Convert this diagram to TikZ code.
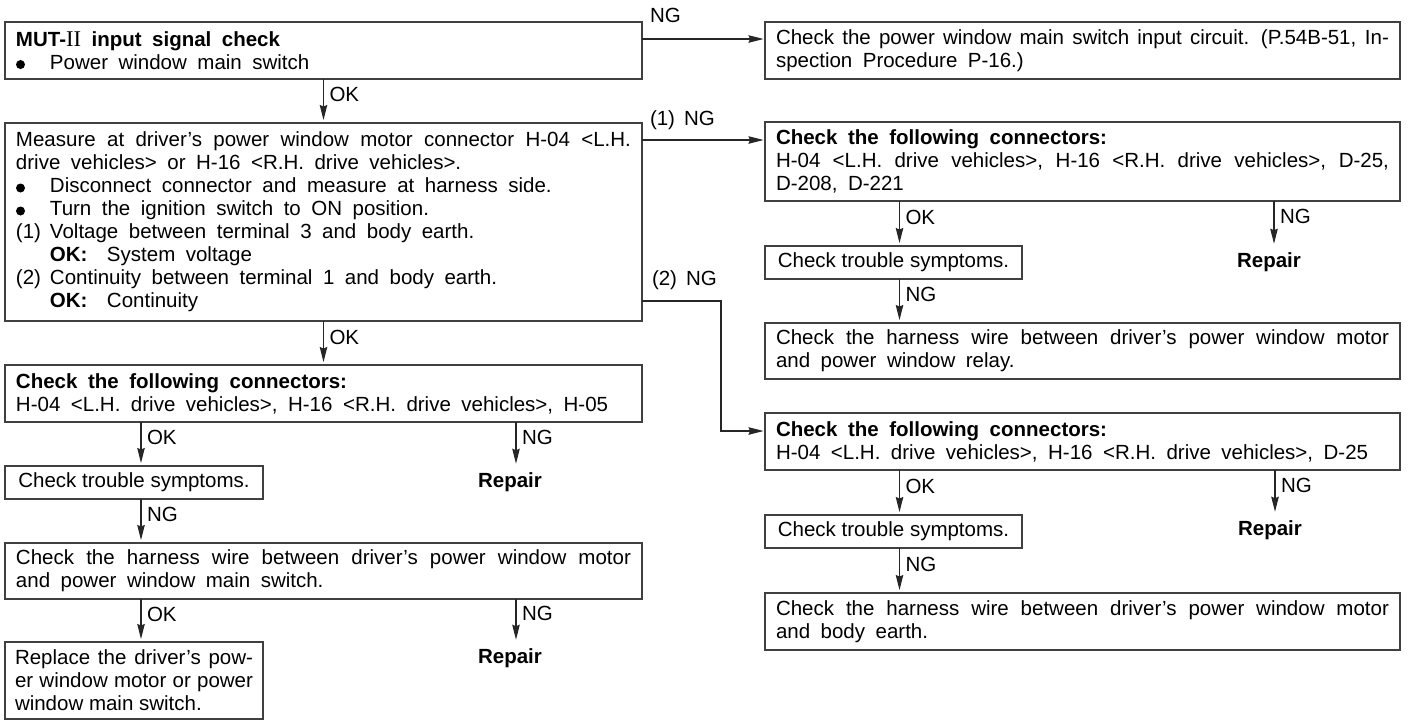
\documentclass[tikz,border=0pt]{standalone}
\usepackage{fontspec}
\setmainfont{Liberation Sans}
\newfontfamily\serifII{Liberation Serif}
\usetikzlibrary{arrows.meta}
\newcommand{\blt}{\tikz[x=1pt,y=1pt,baseline=0pt]\fill (4.5,4.8) circle (4.5pt);}
\tikzset{
  wbox/.style={draw=black!75, line width=1.3pt, anchor=north west, inner xsep=11pt, inner ysep=0pt, align=justify,
    execute at begin node={\spaceskip=10.5pt plus 12pt minus 3pt\relax\hyphenpenalty=10000\relax\parindent=0pt\relax}},
  lbox/.style={wbox, text width=615pt},
  rbox/.style={wbox, text width=613pt},
  sbox/.style={draw=black!75, line width=1.3pt, anchor=north west, inner sep=0pt, minimum width=257pt, minimum height=33pt, align=center},
  rep/.style={font=\fontsize{20.5}{23}\selectfont\bfseries, inner xsep=0pt, inner ysep=8.75pt},
  arr/.style={draw=black!85, line width=1.1pt, -{Stealth[length=15pt,width=7.5pt,inset=1.5pt]}},
  lab/.style={anchor=west, inner xsep=6pt, inner ysep=0pt},
  okl/.style={lab, pos=0.38},
  hl/.style={anchor=base west, inner sep=0pt},
}
\begin{document}
\begin{tikzpicture}[x=1pt, y=-1pt, font=\fontsize{20.5}{23}\selectfont,
  every node/.style={inner sep=0pt, outer sep=0pt}]
\path[use as bounding box, fill=white] (0,0) rectangle (1411,721);

% left column
\node[lbox, minimum height=57pt] (A) at (5,22)
  {\textbf{MUT-{\serifII\mdseries\fontsize{22.5}{23}\selectfont II} input signal check}\par
   \makebox[34pt][l]{\blt}Power window main switch};
\node[lbox, minimum height=198pt] (C) at (5,123)
  {Measure at driver's power window motor connector H-04 <L.H.\linebreak drive vehicles> or H-16 <R.H. drive vehicles>.\par
   \makebox[34pt][l]{\blt}Disconnect connector and measure at harness side.\par
   \makebox[34pt][l]{\blt}Turn the ignition switch to ON position.\par
   \makebox[34pt][l]{(1)}Voltage between terminal 3 and body earth.\par
   \hspace*{34pt}\makebox[57pt][l]{\bfseries OK:}System voltage\par
   \makebox[34pt][l]{(2)}Continuity between terminal 1 and body earth.\par
   \hspace*{34pt}\makebox[57pt][l]{\bfseries OK:}Continuity};
\node[lbox, minimum height=57pt] (J) at (5,365)
  {\textbf{Check the following connectors:}\par
   H-04 <L.H. drive vehicles>, H-16 <R.H. drive vehicles>, H-05};
\node[sbox, minimum width=258pt] (K) at (5,466) {Check trouble symptoms.};
\node[rep] (R1) at (510,482) {Repair};
\node[lbox, minimum height=56pt] (L) at (5,543)
  {Check the harness wire between driver's power window motor\linebreak and power window main switch.};
\node[wbox, inner xsep=10pt, text width=238pt, minimum height=77pt,
  execute at begin node={\spaceskip=0pt\relax}] (M) at (5,642)
  {Replace the driver's pow-\linebreak er window motor or power\linebreak window main switch.};
\node[rep] (R2) at (510,658) {Repair};

% right column
\node[rbox, minimum height=57pt] (B) at (765,22)
  {Check the power window main switch input circuit. (P.54B-51, In-\linebreak spection Procedure P-16.)};
\node[rbox, minimum height=79pt] (D) at (765,122)
  {\textbf{Check the following connectors:}\par
   H-04 <L.H. drive vehicles>, H-16 <R.H. drive vehicles>, D-25,\linebreak D-208, D-221};
\node[sbox] (E) at (765,246) {Check trouble symptoms.};
\node[rep] (R3) at (1269,262) {Repair};
\node[rbox, minimum height=56pt] (F) at (765,323)
  {Check the harness wire between driver's power window motor\linebreak and power window relay.};
\node[rbox, minimum height=57pt] (G) at (765,413)
  {\textbf{Check the following connectors:}\par
   H-04 <L.H. drive vehicles>, H-16 <R.H. drive vehicles>, D-25};
\node[sbox] (H) at (765,515) {Check trouble symptoms.};
\node[rep] (R4) at (1270,530) {Repair};
\node[rbox, minimum height=57pt] (I) at (765,593)
  {Check the harness wire between driver's power window motor\linebreak and body earth.};

% horizontal connectors
\coordinate (a1) at ([yshift=-17pt]A.north east);
\draw[arr, shorten >=1.5pt] (a1) -- node[hl, at start, xshift=8pt, yshift=17pt] (lNG0) {NG} (a1 -| B.west);
\coordinate (c1) at ([yshift=-17pt]C.north east);
\draw[arr, shorten >=1.5pt] (c1) -- node[hl, at start, xshift=8pt, yshift=15pt] (lNG1) {(1)\hspace{9pt}NG} (c1 -| D.west);
\coordinate (c2) at ([yshift=20pt]C.south east);
\coordinate (g1) at ([yshift=-18pt]G.north west);
\coordinate (g0) at ([xshift=-44pt]g1);
\draw[arr, shorten >=1.5pt] (c2) -- node[hl, at start, xshift=10pt, yshift=16pt] (lNG2) {(2)\hspace{9pt}NG} (g0 |- c2) -- (g0) -- (g1);

% vertical connectors, left
\draw[arr, shorten >=3pt] (A.south) -- node[okl, pos=0.36] {OK} (C.north);
\draw[arr, shorten >=3pt] (C.south) -- node[okl] {OK} (J.north);
\draw[arr, shorten >=3pt] ([xshift=7pt]K.north |- J.south) -- node[okl, pos=0.36] {OK} ([xshift=7pt]K.north);
\draw[arr] ([xshift=6pt]R1.north |- J.south) -- node[okl, pos=0.36] {NG} ([xshift=6pt]R1.north);
\draw[arr, shorten >=3pt] ([xshift=7pt]K.south) -- node[okl, pos=0.36] {NG} ([xshift=7pt]K.south |- L.north);
\draw[arr, shorten >=3pt] ([xshift=7pt]M.north |- L.south) -- node[okl, pos=0.36] {OK} ([xshift=7pt]M.north);
\draw[arr] ([xshift=6pt]R2.north |- L.south) -- node[okl, pos=0.36] {NG} ([xshift=6pt]R2.north);

% vertical connectors, right
\draw[arr, shorten >=3pt] ([xshift=6pt]E.north |- D.south) -- node[okl, pos=0.36] {OK} ([xshift=6pt]E.north);
\draw[arr] ([xshift=5pt]R3.north |- D.south) -- node[okl, pos=0.36] {NG} ([xshift=5pt]R3.north);
\draw[arr, shorten >=3pt] ([xshift=6pt]E.south) -- node[okl, pos=0.36] {NG} ([xshift=6pt]E.south |- F.north);
\draw[arr, shorten >=3pt] ([xshift=6pt]H.north |- G.south) -- node[okl, pos=0.36] {OK} ([xshift=6pt]H.north);
\draw[arr] ([xshift=5pt]R4.north |- G.south) -- node[okl, pos=0.36] {NG} ([xshift=5pt]R4.north);
\draw[arr, shorten >=3pt] ([xshift=6pt]H.south) -- node[okl, pos=0.36] {NG} ([xshift=6pt]H.south |- I.north);
\end{tikzpicture}
\end{document}
